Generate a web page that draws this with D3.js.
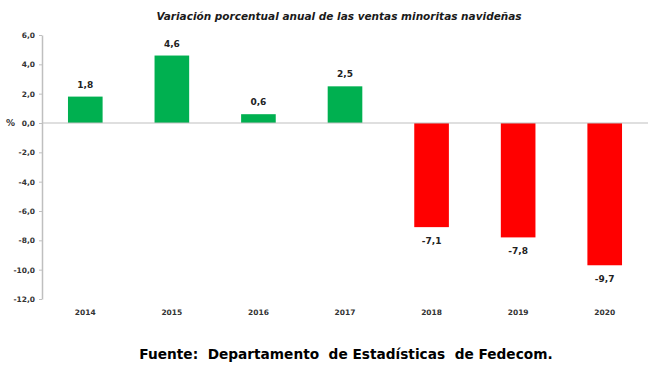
<!DOCTYPE html>
<html>
<head>
<meta charset="utf-8">
<script src="https://cdn.jsdelivr.net/npm/d3@7"></script>
<style>
  body { margin: 0; background: #fff; }
  svg { display: block; }
  text { font-family: Tahoma, Verdana, "DejaVu Sans", sans-serif; }
</style>
</head>
<body>
<svg id="chart" width="652" height="371"></svg>
<script>
// chart data
let years = ["2014", "2015", "2016", "2017", "2018", "2019", "2020"]
let values = [1.8, 4.6, 0.6, 2.5, -7.1, -7.8, -9.7]
let yTicks = [6, 4, 2, 0, -2, -4, -6, -8, -10, -12]
let title = "Variación porcentual anual de las ventas minoritas navideñas"
let source = "Fuente:  Departamento  de Estadísticas  de Fedecom."

let svg = d3.select("#chart")
let plotLeft = 42, plotRight = 648, plotTop = 35, plotBottom = 299

let x = d3.scaleBand().domain(years).range([plotLeft, plotRight]).paddingInner(0.6).paddingOuter(0.3)
let y = d3.scaleLinear().domain([-12, 6]).range([plotBottom, plotTop])

let fmt = d => d3.format(".1f")(d).replace(".", ",").replace("−", "-")

// title
svg.append("text")
    .attr("x", 339).attr("y", 20)
    .attr("text-anchor", "middle")
    .style("font-size", "10.5px").style("font-weight", "bold").style("font-style", "italic")
    .attr("fill", "#1a1a1a")
    .text(title)

// y axis
let yAxis = svg.append("g")
    .attr("transform", `translate(${plotLeft},0)`)
    .call(d3.axisLeft(y).tickValues(yTicks).tickSize(3).tickSizeOuter(0).tickPadding(4).tickFormat(fmt))
yAxis.select(".domain").attr("stroke", "#bfbfbf").attr("stroke-width", 1.5)
yAxis.selectAll(".tick line").attr("stroke", "#bfbfbf")
yAxis.selectAll(".tick text")
    .style("font-size", "7.5px").style("font-weight", "bold")
    .attr("fill", "#333")

svg.append("text")
    .attr("x", 6).attr("y", y(0) + 3)
    .style("font-size", "9px").style("font-weight", "bold")
    .attr("fill", "#333")
    .text("%")

// bars
svg.selectAll("rect.bar").data(values).enter().append("rect")
    .attr("class", "bar")
    .attr("x", (d, i) => x(years[i]))
    .attr("width", x.bandwidth())
    .attr("y", d => y(Math.max(0, d)))
    .attr("height", d => Math.abs(y(d) - y(0)))
    .attr("fill", d => d >= 0 ? "#00b050" : "#ff0000")

// zero line
svg.append("line")
    .attr("x1", plotLeft).attr("x2", plotRight)
    .attr("y1", y(0)).attr("y2", y(0))
    .attr("stroke", "#bfbfbf").attr("stroke-width", 1)

// value labels
svg.selectAll("text.val").data(values).enter().append("text")
    .attr("class", "val")
    .attr("x", (d, i) => x(years[i]) + x.bandwidth() / 2)
    .attr("y", d => d >= 0 ? y(d) - 9 : y(d) + 17)
    .attr("text-anchor", "middle")
    .style("font-size", "9px").style("font-weight", "bold")
    .attr("fill", "#222")
    .text(fmt)

// year labels
svg.selectAll("text.year").data(years).enter().append("text")
    .attr("class", "year")
    .attr("x", d => x(d) + x.bandwidth() / 2)
    .attr("y", 315)
    .attr("text-anchor", "middle")
    .style("font-size", "7.5px").style("font-weight", "bold")
    .attr("fill", "#333")
    .text(d => d)

// source
svg.append("text")
    .attr("x", 346).attr("y", 359)
    .attr("text-anchor", "middle")
    .style("font-size", "13.7px").style("font-weight", "bold")
    .style("font-family", "Verdana, 'DejaVu Sans', sans-serif")
    .attr("fill", "#000")
    .style("white-space", "pre")
    .text(source)
</script>
</body>
</html>
